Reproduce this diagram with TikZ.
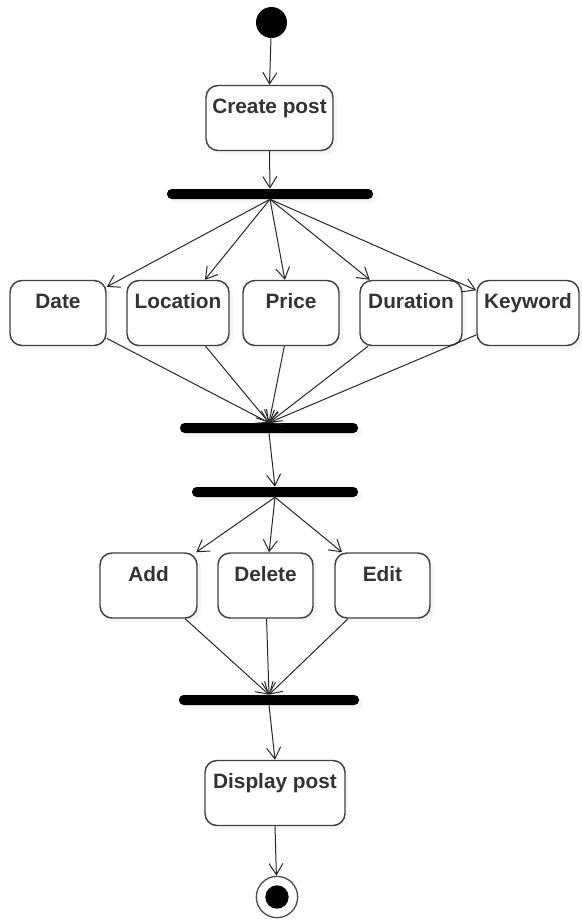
\documentclass[tikz,border=0pt]{standalone}
\usepackage{fontspec}
\setmainfont{Liberation Sans}
\usetikzlibrary{arrows.meta,shadows}
\begin{document}
\begin{tikzpicture}[x=0.75pt,y=-0.75pt,
  act/.style={draw=black!75,line width=1.1pt,rounded corners=9pt,fill=white,
    drop shadow={shadow xshift=3pt,shadow yshift=-3pt,fill=black!8},
    font=\fontsize{15.6}{18}\selectfont\bfseries,text=black!80,
    inner xsep=0pt,inner ysep=0pt,text height=21pt,text depth=27.75pt,
    minimum height=48.75pt,minimum width=#1*0.75pt},
  bar/.style={fill=black,rounded corners=3.5pt,inner sep=0pt,minimum height=7.5pt,
    drop shadow={shadow xshift=3pt,shadow yshift=-3pt,fill=black!8},
    minimum width=#1*0.75pt},
  flow/.style={draw=black!85,line width=0.75pt,-{Straight Barb[length=8.5pt,width=10.5pt]}}]
\useasboundingbox (0,0) rectangle (582,922);
\node[circle,fill=black,inner sep=0pt,minimum size=23.25pt] (start) at (271.5,22.5) {};
\node[act=127] (create) at (269.5,118) {Create post};
\node[bar=206] (bar1) at (270,194) {};
\node[act=96] (date) at (58,313) {Date};
\node[act=102] (location) at (178,313) {Location};
\node[act=96] (price) at (291,313) {Price};
\node[act=102] (duration) at (411,313) {Duration};
\node[act=102] (keyword) at (528,313) {Keyword};
\node[bar=178] (bar2) at (269,428) {};
\node[bar=166] (bar3) at (275,492) {};
\node[act=97] (add) at (148.5,585.5) {Add};
\node[act=95] (delete) at (265.5,585.5) {Delete};
\node[act=95] (edit) at (382.5,585.5) {Edit};
\node[bar=180] (bar4) at (269,700) {};
\node[act=140] (display) at (275,793) {Display post};
\node[circle,draw=black!70,fill=white,line width=1pt,inner sep=0pt,minimum size=31pt,
  path picture={\fill[black] (path picture bounding box.center) circle (8.75pt);}] (stop) at (277,897) {};
\draw[flow] (start) -- (create.north);
\draw[flow] (create.south) -- (bar1.north);
\draw[flow] (bar1.south) -- (date);
\draw[flow] (bar1.south) -- (location);
\draw[flow] (bar1.south) -- (price);
\draw[flow] (bar1.south) -- (duration);
\draw[flow] (bar1.south) -- (keyword);
\draw[flow] (date) -- (bar2.north);
\draw[flow] (location) -- (bar2.north);
\draw[flow] (price) -- (bar2.north);
\draw[flow] (duration) -- (bar2.north);
\draw[flow] (keyword) -- (bar2.north);
\draw[flow] (bar2.south) -- (bar3.north);
\draw[flow] (bar3.south) -- (add);
\draw[flow] (bar3.south) -- (delete);
\draw[flow] (bar3.south) -- (edit);
\draw[flow] (add) -- (bar4.north);
\draw[flow] (delete) -- (bar4.north);
\draw[flow] (edit) -- (bar4.north);
\draw[flow] (bar4.south) -- (display.north);
\draw[flow] (display.south) -- (stop);
\end{tikzpicture}
\end{document}
